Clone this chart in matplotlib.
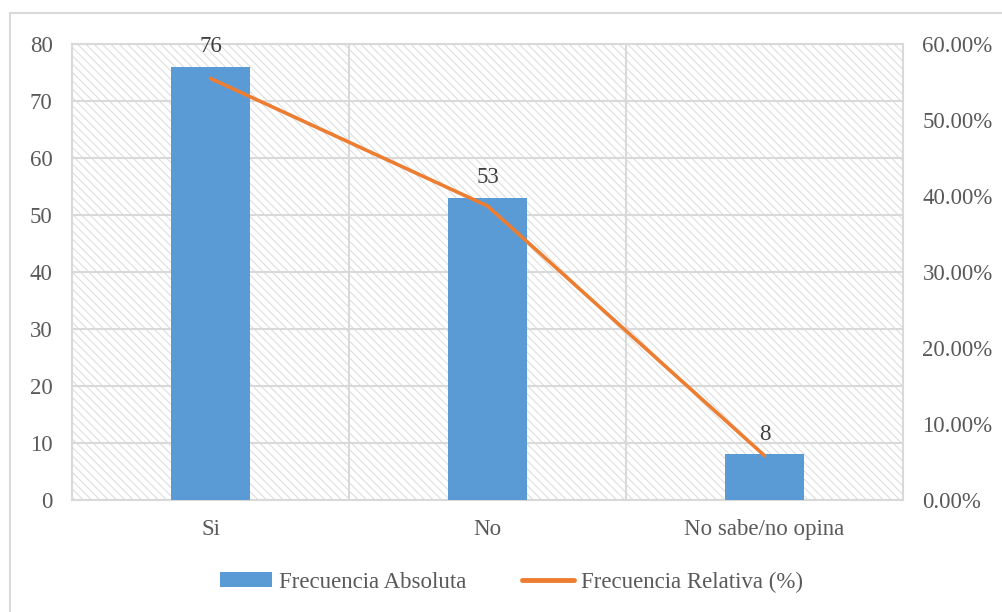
import numpy as np
import matplotlib
matplotlib.use('Agg')
import matplotlib.pyplot as plt
from matplotlib.patches import Rectangle, Patch
from matplotlib.lines import Line2D

# datos del grafico
categorias = ['Si', 'No', 'No sabe/no opina']
frec_absoluta = [76, 53, 8]
frec_relativa = [0.5547, 0.3869, 0.0584]
ticks_izq = [0, 10, 20, 30, 40, 50, 60, 70, 80]
ticks_der = [0.0, 0.1, 0.2, 0.3, 0.4, 0.5, 0.6]

azul = '#5B9BD5'
naranja = '#ED7D31'
gris_txt = '#595959'
gris_linea = '#D9D9D9'
fs = 16.5

plt.rcParams['font.family'] = ['Liberation Serif', 'DejaVu Serif']
plt.rcParams['hatch.color'] = '#DADADA'
plt.rcParams['hatch.linewidth'] = 0.7

W, H = 1003, 612
fig = plt.figure(figsize=(W / 100, H / 100), dpi=100)

# marco exterior del grafico
fig.patches.append(Rectangle((10 / W, -0.1), 1.2, (H - 13) / H + 0.1, transform=fig.transFigure,
                             fill=False, edgecolor=gris_linea, lw=1.5))

ax = fig.add_axes([72 / W, (H - 500) / H, 831 / W, 456 / H])
ax.set_xlim(-0.5, 2.5)
ax.set_ylim(0, 80)

# fondo rayado
ax.add_patch(Rectangle((0, 0), 1, 1, transform=ax.transAxes, facecolor='white',
                       hatch='\\\\\\\\', edgecolor='#DADADA', lw=0, zorder=0))

x = np.arange(len(categorias))
ax.bar(x, frec_absoluta, width=0.285, color=azul, zorder=3)
for xi, v in zip(x, frec_absoluta):
    ax.annotate(str(v), (xi, v), xytext=(0, 7), textcoords='offset points',
                ha='center', va='bottom', fontsize=fs, color='#404040', zorder=6)

ax.set_yticks(ticks_izq)
ax.set_xticks(x)
ax.set_xticklabels(categorias)
ax.set_xticks([0.5, 1.5], minor=True)
ax.grid(axis='y', color=gris_linea, lw=1.5, zorder=1)
ax.grid(axis='x', which='minor', color=gris_linea, lw=1.5, zorder=1)
ax.tick_params(axis='both', which='both', length=0, labelsize=fs, labelcolor=gris_txt)
ax.tick_params(axis='y', pad=14)
ax.tick_params(axis='x', pad=14)
for s in ax.spines.values():
    s.set_color(gris_linea)
    s.set_linewidth(1.5)

ax2 = ax.twinx()
ax2.set_ylim(0, 0.6)
ax2.plot(x, frec_relativa, color=naranja, lw=2.6, solid_capstyle='round', zorder=5)
ax2.set_yticks(ticks_der)
ax2.set_yticklabels([f'{t * 100:.2f}%' for t in ticks_der])
ax2.tick_params(axis='y', length=0, labelsize=fs, labelcolor=gris_txt, pad=14)
for s in ax2.spines.values():
    s.set_visible(False)

handles = [Patch(facecolor=azul), Line2D([0], [0], color=naranja, lw=3.5, solid_capstyle='round')]
fig.legend(handles, ['Frecuencia Absoluta', 'Frecuencia Relativa (%)'], loc='center',
           bbox_to_anchor=(0.51, (H - 582) / H), ncol=2, frameon=False, fontsize=fs,
           labelcolor=gris_txt, handlelength=2.3, handleheight=0.6, handletextpad=0.3,
           columnspacing=2.4)

fig.savefig('out.png', dpi=100)
